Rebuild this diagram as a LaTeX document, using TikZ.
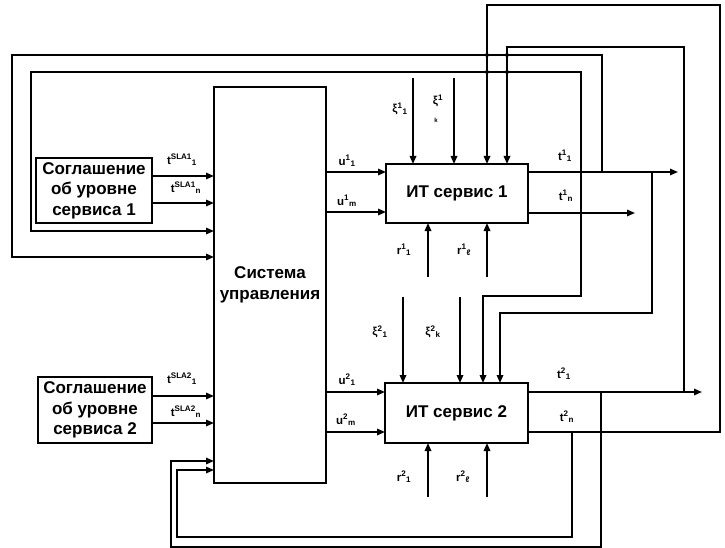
\documentclass[tikz,border=0pt]{standalone}
\usepackage{fontspec}
\setmainfont{Liberation Sans}
\usetikzlibrary{arrows.meta}
\begin{document}
\begin{tikzpicture}[x=1pt,y=-1pt,
 ln/.style={line width=1.6pt},
 arr/.style={ln,-{Triangle[length=8pt,width=6.5pt]}},
 arrboth/.style={ln,{Triangle[length=8pt,width=6.5pt]}-{Triangle[length=8pt,width=6.5pt]}},
 box/.style={draw,line width=1.8pt,inner sep=0pt,outer sep=0pt,align=center,font=\fontsize{17}{20.5}\selectfont\bfseries},
 lab/.style={inner sep=0pt,font=\fontsize{11.5}{13}\selectfont\bfseries},
 smalllab/.style={inner sep=0pt,font=\fontsize{6}{7}\selectfont\bfseries},
 jdot/.style={circle,fill,inner sep=0pt,minimum size=4pt}
]
\useasboundingbox (0,0) rectangle (725,548);
% boxes
\node[box,minimum width=116pt,minimum height=65pt] (sla1) at (94,190.5) {Соглашение\\об уровне\\сервиса 1};
\node[box,minimum width=114pt,minimum height=66pt] (sla2) at (95,410) {Соглашение\\об уровне\\сервиса 2};
\node[box,minimum width=112pt,minimum height=396pt] (sys) at (270,285) {Система\\управления};
\node[box,minimum width=142pt,minimum height=59pt] (it1) at (457,193.5) {ИТ сервис 1};
\node[box,minimum width=143pt,minimum height=60pt] (it2) at (456.5,413) {ИТ сервис 2};

% SLA -> system
\draw[arr] (sla1.east |- 0,176) -- (sys.west |- 0,176);
\draw[arr] (sla1.east |- 0,203) -- (sys.west |- 0,203);
\draw[arr] (sla2.east |- 0,396) -- (sys.west |- 0,396);
\draw[arr] (sla2.east |- 0,423) -- (sys.west |- 0,423);

% system -> IT services
\draw[arr] (sys.east |- 0,172) -- (it1.west |- 0,172);
\draw[arr] (sys.east |- 0,212) -- (it1.west |- 0,212);
\draw[arr] (sys.east |- 0,392) -- (it2.west |- 0,392);
\draw[arr] (sys.east |- 0,432) -- (it2.west |- 0,432);

% disturbances
\draw[arr] (413,78) -- (413,0 |- it1.north);
\draw[arr] (454,78) -- (454,0 |- it1.north);
\draw[arr] (403,297) -- (403,0 |- it2.north);
\draw[arr] (460,297) -- (460,0 |- it2.north);

% resources
\draw[arr] (428,277) -- (428,0 |- it1.south);
\draw[arr] (487,277) -- (487,0 |- it1.south);
\draw[arr] (428,497) -- (428,0 |- it2.south);
\draw[arr] (487,497) -- (487,0 |- it2.south);

% outputs
\draw[arr] (it1.east |- 0,172) -- (678,172);
\draw[arr] (it1.east |- 0,213) -- (635,213);
\draw[arr] (it2.east |- 0,392) -- (702,392);

% feedback loops
\draw[arr] (602,172) -- (602,55) -- (12,55) -- (12,257) -- (sys.west |- 0,257);
\draw[arrboth] (sys.west |- 0,231) -- (31,231) -- (31,72) -- (581,72) -- (581,296) -- (483,296) -- (483,0 |- it2.north);
\draw[arr] (it2.east |- 0,432) -- (720,432) -- (720,5) -- (487,5) -- (487,0 |- it1.north);
\draw[arr] (684,392) -- (684,47) -- (507,47) -- (507,0 |- it1.north);
\draw[arr] (652,172) -- (652,313) -- (500,313) -- (500,0 |- it2.north);
\draw[arr] (601,392) -- (601,547) -- (171,547) -- (171,461) -- (sys.west |- 0,461);
\draw[arr] (572,432) -- (572,537) -- (177,537) -- (177,470) -- (sys.west |- 0,470);

% junction dots
\node[jdot] (d1) at (487,55) {};
\node[jdot] (d2) at (507,55) {};
\node[jdot] (d3) at (487,72) {};
\node[jdot] (d4) at (507,72) {};

% labels
\node[lab] (ls11) at (182,160) {t\textsuperscript{SLA1}\textsubscript{1}};
\node[lab] (ls1n) at (186,188) {t\textsuperscript{SLA1}\textsubscript{n}};
\node[lab] (ls21) at (182,379) {t\textsuperscript{SLA2}\textsubscript{1}};
\node[lab] (ls2n) at (186,412) {t\textsuperscript{SLA2}\textsubscript{n}};
\node[lab] (lu11) at (347,161) {u\textsuperscript{1}\textsubscript{1}};
\node[lab] (lu1m) at (347,201) {u\textsuperscript{1}\textsubscript{m}};
\node[lab] (lu21) at (347,380) {u\textsuperscript{2}\textsubscript{1}};
\node[lab] (lu2m) at (346,420) {u\textsuperscript{2}\textsubscript{m}};
\node[lab] (lt11) at (565,156) {t\textsuperscript{1}\textsubscript{1}};
\node[lab] (lt1n) at (566,196) {t\textsuperscript{1}\textsubscript{n}};
\node[lab] (lt21) at (564,374) {t\textsuperscript{2}\textsubscript{1}};
\node[lab] (lt2n) at (567,417) {t\textsuperscript{2}\textsubscript{n}};
\node[lab] (lx11) at (400,109) {ξ\textsuperscript{1}\textsubscript{1}};
\node[lab] (lx1k) at (438,101) {ξ\textsuperscript{1}};
\node[smalllab] (lk) at (436,120) {k};
\node[lab] (lx21) at (380,332) {ξ\textsuperscript{2}\textsubscript{1}};
\node[lab] (lx2k) at (433,332) {ξ\textsuperscript{2}\textsubscript{k}};
\node[lab] (lr11) at (404,250) {r\textsuperscript{1}\textsubscript{1}};
\node[lab] (lr1l) at (464,250) {r\textsuperscript{1}\textsubscript{ℓ}};
\node[lab] (lr21) at (404,477) {r\textsuperscript{2}\textsubscript{1}};
\node[lab] (lr2l) at (463,477) {r\textsuperscript{2}\textsubscript{ℓ}};
\end{tikzpicture}
\end{document}
